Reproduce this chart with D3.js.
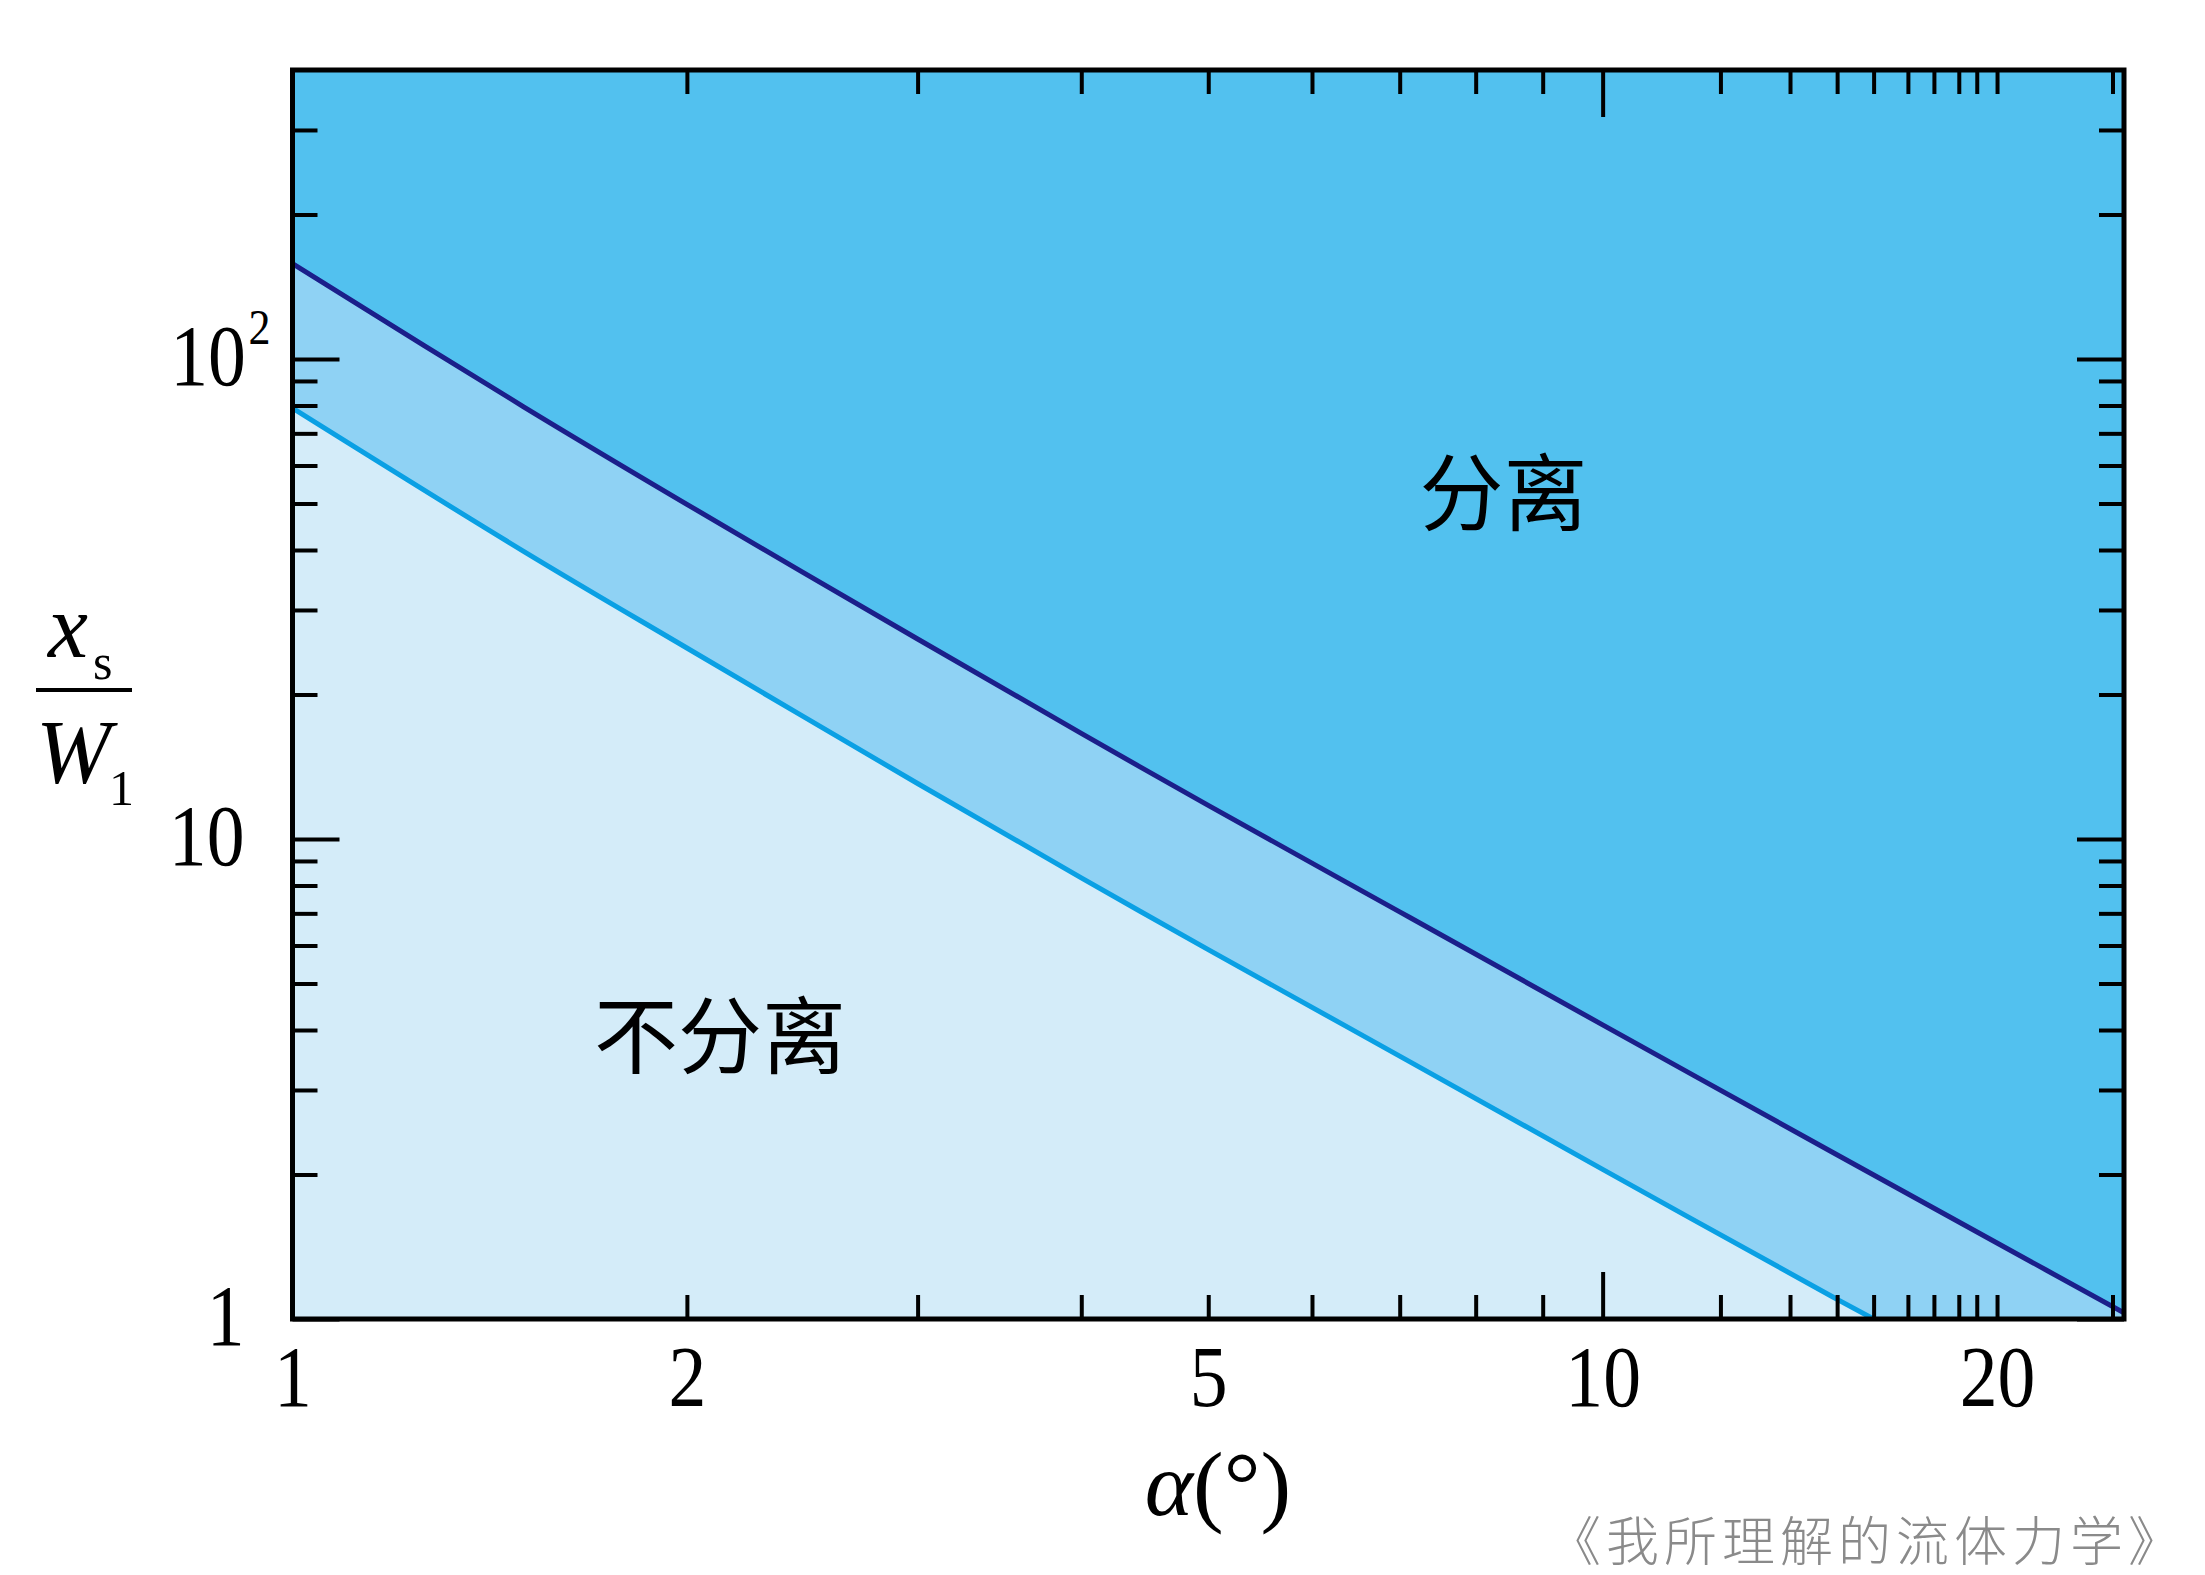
<!DOCTYPE html>
<html><head><meta charset="utf-8">
<script src="https://cdn.jsdelivr.net/npm/d3@7"></script>
<style>body{margin:0;background:#fff}</style>
</head><body>
<svg id="c" width="2205" height="1575" xmlns="http://www.w3.org/2000/svg"></svg>
<script>
// ---- data ----
const alphaUpper = [1, 1.5, 2, 3, 4, 5, 7, 10, 15, 20, 25];
const upperBoundary = [158, 79.6, 49.8, 26.1, 16.6, 11.75, 7.05, 4.1, 2.22, 1.44, 1.03];
const alphaLower = [1, 1.5, 2, 3, 4, 5, 7, 10, 15, 16.1];
const lowerBoundary = [79, 39.8, 25.0, 13.05, 8.3, 5.88, 3.53, 2.05, 1.11, 1.0];
const xMajorTicks = [1, 10];
const xMinorTicks = [2, 3, 4, 5, 6, 7, 8, 9, 12.3, 13.9, 15.1, 16.1, 17.1, 17.9, 18.7, 19.3, 20, 24.5];
const xTickLabels = [1, 2, 5, 10, 20];
const yMajorTicks = [1, 10, 100];
const yMinorTicks = [2, 3, 4, 5, 6, 7, 8, 9, 20, 30, 40, 50, 60, 70, 80, 90, 200, 300];
const regionLabels = ["分离", "不分离"];
const watermark = "《我所理解的流体力学》";

// ---- layout ----
const L = 292.5, R = 2124, T = 70, B = 1319;
const svg = d3.select("#c");
const x = d3.scaleLog().domain([1, 25]).range([L, R]);
const y = d3.scaleLog().domain([1, 400]).range([B, T]);
const serif = "'Liberation Serif','Times New Roman',serif";
const cjk = "'Noto Sans CJK SC',sans-serif";

const upper = alphaUpper.map((a, i) => [a, upperBoundary[i]]);
const lower = alphaLower.map((a, i) => [a, lowerBoundary[i]]);

svg.append("defs").append("clipPath").attr("id", "clip")
  .append("rect").attr("x", L).attr("y", T).attr("width", R - L).attr("height", B - T);

const plot = svg.append("g").attr("clip-path", "url(#clip)");
plot.append("rect").attr("x", L).attr("y", T).attr("width", R - L).attr("height", B - T)
  .attr("fill", "#52C1EF");

const curve = d3.curveCatmullRom.alpha(0.5);
const area = d3.area().x(d => x(d[0])).y0(y(1)).y1(d => y(d[1])).curve(curve);
const line = d3.line().x(d => x(d[0])).y(d => y(d[1])).curve(curve);

plot.append("path").datum(upper).attr("d", area).attr("fill", "#8FD2F4");
plot.append("path").datum(lower).attr("d", area).attr("fill", "#D4ECF9");
plot.append("path").datum(upper).attr("d", line).attr("fill", "none")
  .attr("stroke", "#1B1F8A").attr("stroke-width", 5);
plot.append("path").datum(lower).attr("d", line).attr("fill", "none")
  .attr("stroke", "#0AA0E4").attr("stroke-width", 5);

// ---- axes (ticks inward) ----
function styleTicks(g) {
  g.select(".domain").remove();
  g.selectAll(".tick line").attr("stroke", "#000").attr("stroke-width", 4);
  g.selectAll(".tick text").remove();
}
const axes = svg.append("g");
axes.append("g").attr("transform", `translate(0,${B})`)
  .call(d3.axisBottom(x).tickValues(xMajorTicks).tickSize(-47)).call(styleTicks);
axes.append("g").attr("transform", `translate(0,${B})`)
  .call(d3.axisBottom(x).tickValues(xMinorTicks).tickSize(-24)).call(styleTicks);
axes.append("g").attr("transform", `translate(0,${T})`)
  .call(d3.axisTop(x).tickValues(xMajorTicks).tickSize(-47)).call(styleTicks);
axes.append("g").attr("transform", `translate(0,${T})`)
  .call(d3.axisTop(x).tickValues(xMinorTicks).tickSize(-24)).call(styleTicks);
axes.append("g").attr("transform", `translate(${L},0)`)
  .call(d3.axisLeft(y).tickValues(yMajorTicks).tickSize(-47)).call(styleTicks);
axes.append("g").attr("transform", `translate(${L},0)`)
  .call(d3.axisLeft(y).tickValues(yMinorTicks).tickSize(-25)).call(styleTicks);
axes.append("g").attr("transform", `translate(${R},0)`)
  .call(d3.axisRight(y).tickValues(yMajorTicks).tickSize(-47)).call(styleTicks);
axes.append("g").attr("transform", `translate(${R},0)`)
  .call(d3.axisRight(y).tickValues(yMinorTicks).tickSize(-25)).call(styleTicks);

// frame
svg.append("rect").attr("x", L).attr("y", T).attr("width", R - L).attr("height", B - T)
  .attr("fill", "none").attr("stroke", "#000").attr("stroke-width", 5);

// ---- tick labels ----
const SX = 0.88;
const xl = svg.append("g").attr("transform", `translate(0,${B})`)
  .call(d3.axisBottom(x).tickValues(xTickLabels).tickSize(0).tickFormat(d3.format("d")));
xl.select(".domain").remove();
xl.selectAll(".tick text")
  .attr("y", 87).attr("dy", 0)
  .attr("transform", `scale(${SX},1)`)
  .attr("font-family", serif).attr("font-size", 86).attr("fill", "#000");

const yl = svg.append("g").attr("transform", `translate(${L},0)`)
  .call(d3.axisLeft(y).tickValues(yMajorTicks).tickSize(0).tickFormat(d => d === 100 ? "10" : String(d)));
yl.select(".domain").remove();
yl.selectAll(".tick text")
  .attr("dy", 0).attr("y", 25)
  .attr("x", d => d === 100 ? -22 / SX : -48 / SX)
  .attr("transform", `scale(${SX},1)`)
  .attr("font-family", serif).attr("font-size", 86).attr("fill", "#000")
  .each(function (d) {
    if (d === 100) {
      d3.select(this).append("tspan").text("2").attr("font-size", 50).attr("dy", -40).attr("dx", 3);
    }
  });

// ---- axis titles ----
const xt = svg.append("text").attr("x", 1218).attr("y", 1515).attr("text-anchor", "middle")
  .attr("font-family", serif).attr("font-size", 92).attr("fill", "#000");
xt.append("tspan").attr("font-style", "italic").text("α");
xt.append("tspan").text("(°)");

const yt = svg.append("g").attr("font-family", serif).attr("fill", "#000");
yt.append("text").attr("x", 48).attr("y", 657).attr("font-size", 90).attr("font-style", "italic").text("x");
yt.append("text").attr("x", 93).attr("y", 679).attr("font-size", 50).text("s");
yt.append("line").attr("x1", 36).attr("x2", 132).attr("y1", 690).attr("y2", 690)
  .attr("stroke", "#000").attr("stroke-width", 4);
yt.append("text").attr("x", 36).attr("y", 783).attr("font-size", 90).attr("font-style", "italic").text("W");
yt.append("text").attr("x", 109).attr("y", 805).attr("font-size", 50).text("1");

// ---- region labels ----
svg.append("text").attr("x", x(8.4)).attr("y", y(54)).attr("text-anchor", "middle")
  .attr("dominant-baseline", "central").attr("font-family", cjk).attr("font-size", 84)
  .attr("fill", "#000").text(regionLabels[0]);
svg.append("text").attr("x", x(2.12)).attr("y", y(4.0)).attr("text-anchor", "middle")
  .attr("dominant-baseline", "central").attr("font-family", cjk).attr("font-size", 84)
  .attr("fill", "#000").text(regionLabels[1]);

// watermark
svg.append("text").attr("x", 2186).attr("y", 1538).attr("text-anchor", "end")
  .attr("dominant-baseline", "central").attr("font-family", cjk).attr("font-weight", 300)
  .attr("font-size", 53).attr("letter-spacing", 5).attr("fill", "#8a8a8a").text(watermark);
</script>
</body></html>
